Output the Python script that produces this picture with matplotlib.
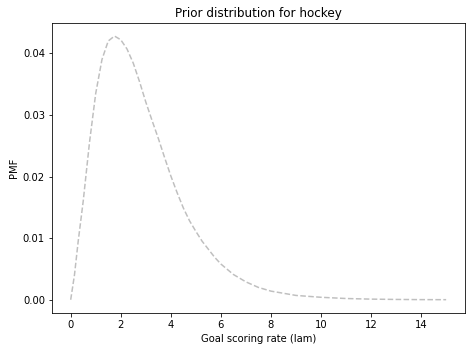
import matplotlib
matplotlib.use("Agg")
import matplotlib.pyplot as plt

# goal scoring rate values and their prior probabilities
lams = [0.0, 0.15, 0.3, 0.5, 0.75, 1.0, 1.25, 1.5, 1.75, 2.0, 2.25, 2.5, 2.75,
        3.0, 3.25, 3.5, 3.75, 4.0, 4.25, 4.5, 4.75, 5.0, 5.25, 5.5, 5.75, 6.0,
        6.5, 7.0, 7.5, 8.0, 9.0, 10.0, 11.0, 12.0, 13.0, 14.0, 15.0]
probs = [0.0, 0.0040, 0.0095, 0.0160, 0.0255, 0.0335, 0.0390, 0.0420, 0.0428,
         0.0422, 0.0407, 0.0384, 0.0354, 0.0321, 0.0291, 0.0262, 0.0231,
         0.0201, 0.0174, 0.0149, 0.0128, 0.0111, 0.0095, 0.0082, 0.0069,
         0.0058, 0.0041, 0.0029, 0.0020, 0.0014, 0.0007, 0.0004, 0.0002,
         0.0001, 0.00005, 0.00002, 0.00001]

fig = plt.figure(figsize=(472 / 72, 352 / 72), dpi=72)
ax = fig.add_axes([0.110, 0.111, 0.875, 0.824])

ax.plot(lams, probs, linestyle='--', color='gray', alpha=0.5, linewidth=1.5)
ax.set_title("Prior distribution for hockey")
ax.set_xlabel("Goal scoring rate (lam)")
ax.set_ylabel("PMF")

fig.savefig("out.png", dpi=72)
